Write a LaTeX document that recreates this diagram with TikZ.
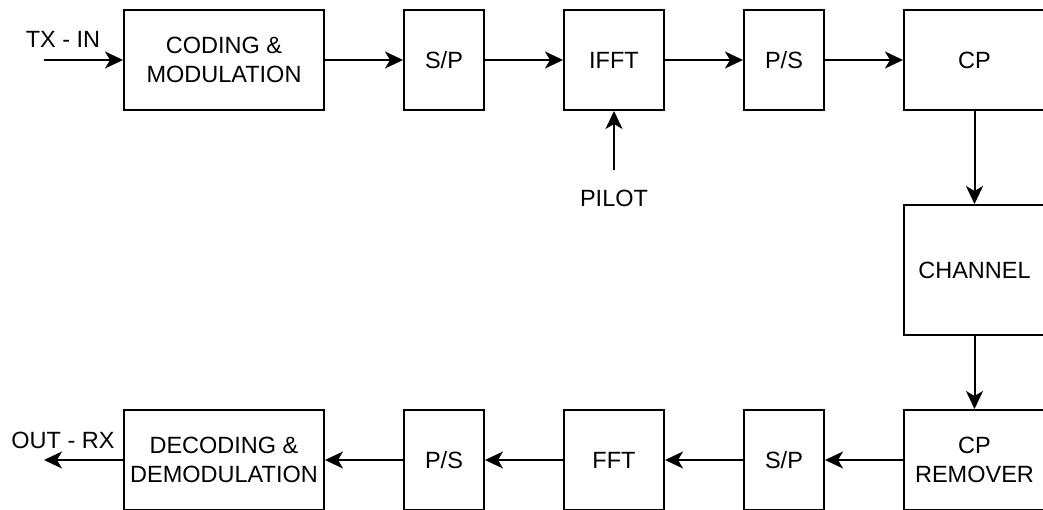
\documentclass[tikz,border=0pt]{standalone}
\usepackage{fontspec}
\setmainfont{Liberation Sans}
\usetikzlibrary{arrows.meta}
\begin{document}
\begin{tikzpicture}[x=1pt,y=-1pt,
  blk/.style={draw,line width=2pt,inner sep=0pt,align=center,
    font=\fontsize{23.5}{29}\selectfont},
  lbl/.style={inner sep=0pt,font=\fontsize{23.5}{29}\selectfont},
  conn/.style={line width=2pt,-{Stealth[length=18pt,width=17pt,inset=5pt]}}]
\useasboundingbox (0,0) rectangle (1043,510);
% top row
\node[blk,minimum width=200,minimum height=100] (cod) at (224,60) {CODING \&\\MODULATION};
\node[blk,minimum width=80,minimum height=100] (sp1) at (444,60) {S/P};
\node[blk,minimum width=100,minimum height=100] (ifft) at (614,60) {IFFT};
\node[blk,minimum width=80,minimum height=100] (ps1) at (784,60) {P/S};
\node[blk,minimum width=141,minimum height=100] (cp) at (974.5,60) {CP};
% channel
\node[blk,minimum width=141,minimum height=130] (ch) at (974.5,270) {CHANNEL};
% bottom row
\node[blk,minimum width=141,minimum height=100] (cpr) at (974.5,460) {CP\\REMOVER};
\node[blk,minimum width=80,minimum height=100] (sp2) at (784,460) {S/P};
\node[blk,minimum width=100,minimum height=100] (fft) at (614,460) {FFT};
\node[blk,minimum width=80,minimum height=100] (ps2) at (444,460) {P/S};
\node[blk,minimum width=200,minimum height=100] (dec) at (224,460) {DECODING \&\\DEMODULATION};
% labels
\node[lbl] (txin) at (63,39) {TX - IN};
\node[lbl] (outrx) at (63,440) {OUT - RX};
\node[lbl] (pilot) at (614,198) {PILOT};
\coordinate (txs) at (44,60);
\coordinate (rxe) at (44,460);
\coordinate (pils) at (614,170);
% connectors
\draw[conn] (txs) -- (cod.west);
\draw[conn] (cod.east) -- (sp1.west);
\draw[conn] (sp1.east) -- (ifft.west);
\draw[conn] (ifft.east) -- (ps1.west);
\draw[conn] (ps1.east) -- (cp.west);
\draw[conn] (pils) -- (ifft.south);
\draw[conn] (cp.south) -- (ch.north);
\draw[conn] (ch.south) -- (cpr.north);
\draw[conn] (cpr.west) -- (sp2.east);
\draw[conn] (sp2.west) -- (fft.east);
\draw[conn] (fft.west) -- (ps2.east);
\draw[conn] (ps2.west) -- (dec.east);
\draw[conn] (dec.west) -- (rxe);
\end{tikzpicture}
\end{document}
